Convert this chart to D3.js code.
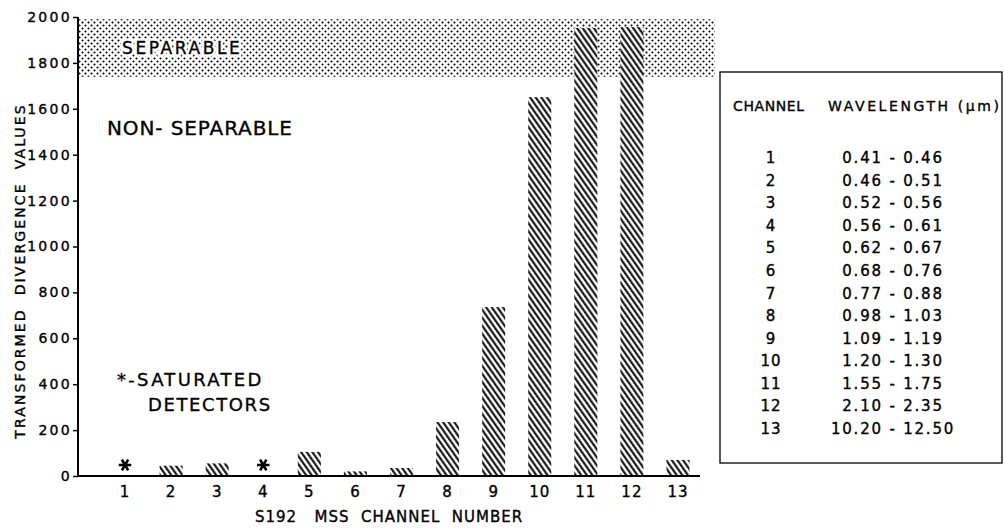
<!DOCTYPE html>
<html>
<head>
<meta charset="utf-8">
<script src="https://cdn.jsdelivr.net/npm/d3@7"></script>
<style>
  body { margin: 0; background: #fff; }
  svg { display: block; font-family: "DejaVu Sans", sans-serif; }
  svg text { fill: #000; stroke: #000; stroke-width: 0.35px; }
</style>
</head>
<body>
<div id="chart"></div>
<script>
// channels on the x axis and transformed divergence per channel (null = saturated detector)
var channels = [1, 2, 3, 4, 5, 6, 7, 8, 9, 10, 11, 12, 13];
var divergence = [null, 45, 55, null, 105, 20, 35, 235, 736, 1651, 1952, 1956, 70];
var yTicks = [0, 200, 400, 600, 800, 1000, 1200, 1400, 1600, 1800, 2000];
var separableBand = [1740, 1990];

// table of channel wavelengths
var tableChannels = ["1", "2", "3", "4", "5", "6", "7", "8", "9", "10", "11", "12", "13"];
var wavelengths = ["0.41 - 0.46", "0.46 - 0.51", "0.52 - 0.56", "0.56 - 0.61", "0.62 - 0.67",
  "0.68 - 0.76", "0.77 - 0.88", "0.98 - 1.03", "1.09 - 1.19", "1.20 - 1.30",
  "1.55 - 1.75", "2.10 - 2.35", "10.20 - 12.50"];

var W = 1005, H = 528;
var svg = d3.select("#chart").append("svg").attr("width", W).attr("height", H);

var defs = svg.append("defs");
// hatch for bars
var hatch = defs.append("pattern")
  .attr("id", "hatch").attr("patternUnits", "userSpaceOnUse")
  .attr("width", 4.6).attr("height", 10)
  .attr("patternTransform", "rotate(-35)");
hatch.append("rect").attr("width", 4.6).attr("height", 10).attr("fill", "#fff");
hatch.append("line").attr("x1", 1.2).attr("x2", 1.2).attr("y1", 0).attr("y2", 10)
  .attr("stroke", "#000").attr("stroke-width", 2);

// dotted screen for the separable zone
var dots = defs.append("pattern")
  .attr("id", "dots").attr("patternUnits", "userSpaceOnUse")
  .attr("width", 6).attr("height", 6);
dots.append("circle").attr("cx", 1.5).attr("cy", 1.5).attr("r", 1.05).attr("fill", "#000");
dots.append("circle").attr("cx", 4.5).attr("cy", 4.5).attr("r", 1.05).attr("fill", "#000");

var x0 = 78, baseY = 476;
var x = d3.scaleBand().domain(channels).range([102, 701]).paddingInner(0.5).paddingOuter(0.25);
var y = d3.scaleLinear().domain([0, 2000]).range([baseY, 17]);

// separable zone
svg.append("rect")
  .attr("x", x0).attr("y", y(separableBand[1]))
  .attr("width", 715 - x0).attr("height", y(separableBand[0]) - y(separableBand[1]))
  .attr("fill", "url(#dots)");

// bars
var barData = channels.map(function (c, i) { return { ch: c, v: divergence[i] }; });
svg.selectAll(".bar").data(barData.filter(function (d) { return d.v != null; }))
  .enter().append("rect")
  .attr("class", "bar")
  .attr("x", function (d) { return x(d.ch); })
  .attr("y", function (d) { return y(d.v); })
  .attr("width", x.bandwidth())
  .attr("height", function (d) { return baseY - y(d.v); })
  .attr("fill", "url(#hatch)");

// saturated detectors
var star = d3.symbol().type(d3.symbolAsterisk).size(110);
svg.selectAll(".star").data(barData.filter(function (d) { return d.v == null; }))
  .enter().append("path")
  .attr("class", "star")
  .attr("transform", function (d) {
    return "translate(" + (x(d.ch) + x.bandwidth() / 2) + "," + (baseY - 11) + ") rotate(90)";
  })
  .attr("d", star)
  .attr("fill", "none").attr("stroke", "#000").attr("stroke-width", 2.6);

// y axis
var yAxis = d3.axisLeft(y).tickValues(yTicks).tickSize(5).tickPadding(1)
  .tickFormat(d3.format("d"));
var gy = svg.append("g").attr("transform", "translate(" + x0 + ",0)").call(yAxis);
gy.select(".domain").remove();
gy.selectAll("text").attr("font-size", 14).attr("letter-spacing", 2.3)
  .attr("font-family", "DejaVu Sans, sans-serif");
gy.selectAll("line").attr("stroke-width", 1.5);
svg.append("line").attr("x1", x0).attr("x2", x0).attr("y1", y(2000)).attr("y2", baseY)
  .attr("stroke", "#000").attr("stroke-width", 2);

// x axis
var xAxis = d3.axisBottom(x).tickSize(0).tickPadding(10);
var gx = svg.append("g").attr("transform", "translate(0," + baseY + ")").call(xAxis);
gx.select(".domain").remove();
gx.selectAll("text").attr("font-size", 15).attr("letter-spacing", 1)
  .attr("font-family", "DejaVu Sans, sans-serif");
svg.append("line").attr("x1", x0).attr("x2", 700).attr("y1", baseY).attr("y2", baseY)
  .attr("stroke", "#000").attr("stroke-width", 2);

svg.append("text")
  .attr("x", 255).attr("y", 522)
  .attr("font-size", 15).attr("letter-spacing", 1).attr("xml:space", "preserve")
  .text("S192   MSS  CHANNEL  NUMBER");

svg.append("text")
  .attr("transform", "translate(25,271) rotate(-90)")
  .attr("text-anchor", "middle").attr("font-size", 14).attr("letter-spacing", 2.1)
  .attr("xml:space", "preserve")
  .text("TRANSFORMED  DIVERGENCE  VALUES");

// annotations
svg.append("text")
  .attr("x", 122).attr("y", 54).attr("font-size", 17).attr("letter-spacing", 2.6)
  .style("fill", "#fff").style("stroke", "#fff").style("stroke-width", "5px")
  .text("SEPARABLE");
svg.append("text")
  .attr("x", 122).attr("y", 54).attr("font-size", 17).attr("letter-spacing", 2.6)
  .text("SEPARABLE");
svg.append("text")
  .attr("x", 107).attr("y", 135).attr("font-size", 20).attr("letter-spacing", 0.9)
  .attr("xml:space", "preserve")
  .text("NON- SEPARABLE");
svg.append("text")
  .attr("x", 117).attr("y", 386).attr("font-size", 18).attr("letter-spacing", 2.3)
  .text("*-SATURATED");
svg.append("text")
  .attr("x", 148).attr("y", 411).attr("font-size", 18).attr("letter-spacing", 1.6)
  .text("DETECTORS");

// wavelength table
var tbl = svg.append("g");
tbl.append("rect").attr("x", 720).attr("y", 72).attr("width", 282).attr("height", 391)
  .attr("fill", "none").attr("stroke", "#000").attr("stroke-width", 1.3);
tbl.append("text").attr("x", 733).attr("y", 111).attr("font-size", 14).attr("letter-spacing", 0.6)
  .text("CHANNEL");
tbl.append("text").attr("x", 828).attr("y", 111).attr("font-size", 14).attr("letter-spacing", 2.6)
  .text("WAVELENGTH (\u03bcm)");

var rowY = d3.scalePoint().domain(tableChannels).range([163, 434]);
tbl.selectAll(".chn").data(tableChannels).enter().append("text")
  .attr("x", 771).attr("y", function (d) { return rowY(d); })
  .attr("text-anchor", "middle").attr("font-size", 15).attr("letter-spacing", 1)
  .text(function (d) { return d; });
tbl.selectAll(".wl").data(wavelengths).enter().append("text")
  .attr("x", 893).attr("y", function (d, i) { return rowY(tableChannels[i]); })
  .attr("text-anchor", "middle").attr("font-size", 15).attr("letter-spacing", 1.8)
  .attr("xml:space", "preserve")
  .text(function (d) { return d; });
</script>
</body>
</html>
